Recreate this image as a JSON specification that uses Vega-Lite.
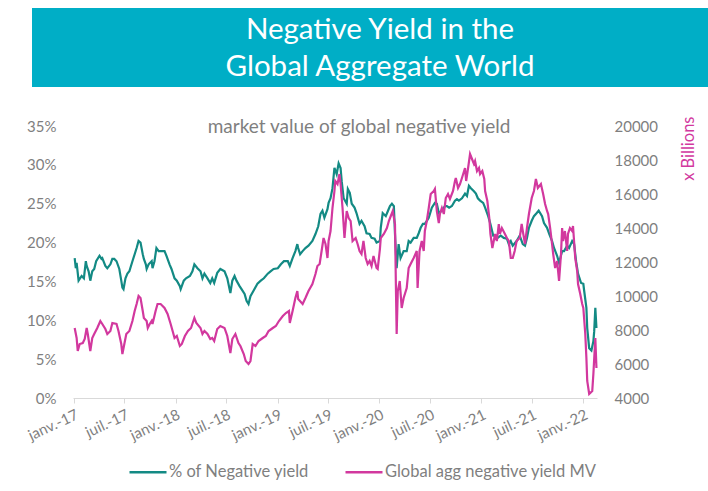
{
  "$schema": "https://vega.github.io/schema/vega-lite/v6.json",
  "padding": {"left": 25, "top": 8, "right": 0, "bottom": 0},
  "background": "white",
  "config": {"font": "Lato", "view": {"stroke": null}},
  "datasets": {
    "pct": [
      {"d":"2017-01-04","v":0.180},{"d":"2017-01-08","v":0.167},{"d":"2017-01-11","v":0.174},{"d":"2017-01-18","v":0.151},{"d":"2017-01-29","v":0.157},{"d":"2017-02-06","v":0.154},{"d":"2017-02-13","v":0.176},{"d":"2017-02-16","v":0.170},{"d":"2017-02-23","v":0.163},{"d":"2017-03-01","v":0.151},{"d":"2017-03-08","v":0.163},{"d":"2017-03-15","v":0.166},{"d":"2017-03-22","v":0.176},{"d":"2017-04-03","v":0.183},{"d":"2017-04-10","v":0.179},{"d":"2017-04-13","v":0.180},{"d":"2017-04-24","v":0.170},{"d":"2017-05-01","v":0.167},{"d":"2017-05-12","v":0.172},{"d":"2017-05-19","v":0.179},{"d":"2017-05-26","v":0.179},{"d":"2017-06-03","v":0.176},{"d":"2017-06-13","v":0.166},{"d":"2017-06-20","v":0.151},{"d":"2017-06-24","v":0.142},{"d":"2017-06-28","v":0.140},{"d":"2017-07-05","v":0.154},{"d":"2017-07-12","v":0.160},{"d":"2017-07-19","v":0.163},{"d":"2017-07-30","v":0.176},{"d":"2017-08-07","v":0.185},{"d":"2017-08-14","v":0.193},{"d":"2017-08-21","v":0.202},{"d":"2017-08-28","v":0.200},{"d":"2017-09-05","v":0.185},{"d":"2017-09-09","v":0.179},{"d":"2017-09-16","v":0.172},{"d":"2017-09-19","v":0.166},{"d":"2017-09-26","v":0.172},{"d":"2017-10-07","v":0.176},{"d":"2017-10-10","v":0.167},{"d":"2017-10-17","v":0.176},{"d":"2017-10-24","v":0.193},{"d":"2017-11-01","v":0.189},{"d":"2017-11-08","v":0.189},{"d":"2017-11-22","v":0.189},{"d":"2017-11-29","v":0.183},{"d":"2017-12-10","v":0.172},{"d":"2017-12-17","v":0.166},{"d":"2017-12-28","v":0.154},
      {"d":"2018-01-05","v":0.151},{"d":"2018-01-16","v":0.144},{"d":"2018-01-19","v":0.140},{"d":"2018-01-30","v":0.151},{"d":"2018-02-07","v":0.154},{"d":"2018-02-21","v":0.157},{"d":"2018-03-02","v":0.163},{"d":"2018-03-09","v":0.172},{"d":"2018-03-20","v":0.167},{"d":"2018-03-31","v":0.163},{"d":"2018-04-07","v":0.154},{"d":"2018-04-14","v":0.160},{"d":"2018-04-25","v":0.154},{"d":"2018-05-05","v":0.148},{"d":"2018-05-12","v":0.154},{"d":"2018-05-19","v":0.148},{"d":"2018-05-30","v":0.161},{"d":"2018-06-10","v":0.166},{"d":"2018-06-25","v":0.163},{"d":"2018-07-05","v":0.154},{"d":"2018-07-16","v":0.135},{"d":"2018-07-23","v":0.151},{"d":"2018-07-31","v":0.157},{"d":"2018-08-07","v":0.151},{"d":"2018-08-18","v":0.144},{"d":"2018-08-25","v":0.140},{"d":"2018-09-05","v":0.134},{"d":"2018-09-12","v":0.125},{"d":"2018-09-19","v":0.121},{"d":"2018-09-26","v":0.131},{"d":"2018-10-07","v":0.138},{"d":"2018-10-21","v":0.147},{"d":"2018-11-02","v":0.151},{"d":"2018-11-13","v":0.154},{"d":"2018-11-27","v":0.160},{"d":"2018-12-07","v":0.163},{"d":"2018-12-18","v":0.166},
      {"d":"2019-01-02","v":0.167},{"d":"2019-01-13","v":0.172},{"d":"2019-01-24","v":0.176},{"d":"2019-02-07","v":0.176},{"d":"2019-02-14","v":0.170},{"d":"2019-02-24","v":0.180},{"d":"2019-03-06","v":0.189},{"d":"2019-03-13","v":0.198},{"d":"2019-03-16","v":0.193},{"d":"2019-03-23","v":0.185},{"d":"2019-04-01","v":0.189},{"d":"2019-04-11","v":0.193},{"d":"2019-04-22","v":0.196},{"d":"2019-05-06","v":0.202},{"d":"2019-05-17","v":0.211},{"d":"2019-05-27","v":0.221},{"d":"2019-06-04","v":0.237},{"d":"2019-06-11","v":0.241},{"d":"2019-06-18","v":0.232},{"d":"2019-06-29","v":0.243},{"d":"2019-07-03","v":0.251},{"d":"2019-07-10","v":0.257},{"d":"2019-07-17","v":0.270},{"d":"2019-07-24","v":0.296},{"d":"2019-08-01","v":0.288},{"d":"2019-08-08","v":0.302},{"d":"2019-08-15","v":0.296},{"d":"2019-08-19","v":0.279},{"d":"2019-08-26","v":0.257},{"d":"2019-09-06","v":0.250},{"d":"2019-09-10","v":0.269},{"d":"2019-09-17","v":0.264},{"d":"2019-09-24","v":0.250},{"d":"2019-10-04","v":0.245},{"d":"2019-10-11","v":0.238},{"d":"2019-10-22","v":0.224},{"d":"2019-10-29","v":0.228},{"d":"2019-11-09","v":0.221},{"d":"2019-11-16","v":0.212},{"d":"2019-11-27","v":0.211},{"d":"2019-12-04","v":0.206},{"d":"2019-12-15","v":0.205},{"d":"2019-12-22","v":0.200},
      {"d":"2020-01-03","v":0.202},{"d":"2020-01-06","v":0.219},{"d":"2020-01-13","v":0.238},{"d":"2020-01-24","v":0.234},{"d":"2020-02-01","v":0.241},{"d":"2020-02-08","v":0.247},{"d":"2020-02-15","v":0.250},{"d":"2020-02-22","v":0.247},{"d":"2020-02-26","v":0.211},{"d":"2020-03-03","v":0.167},{"d":"2020-03-10","v":0.198},{"d":"2020-03-17","v":0.180},{"d":"2020-03-28","v":0.189},{"d":"2020-04-08","v":0.189},{"d":"2020-04-15","v":0.202},{"d":"2020-04-22","v":0.200},{"d":"2020-05-03","v":0.206},{"d":"2020-05-14","v":0.206},{"d":"2020-05-21","v":0.212},{"d":"2020-05-28","v":0.219},{"d":"2020-06-05","v":0.224},{"d":"2020-06-12","v":0.224},{"d":"2020-06-19","v":0.228},{"d":"2020-06-26","v":0.232},{"d":"2020-07-07","v":0.245},{"d":"2020-07-18","v":0.251},{"d":"2020-07-25","v":0.250},{"d":"2020-08-01","v":0.238},{"d":"2020-08-12","v":0.241},{"d":"2020-08-23","v":0.247},{"d":"2020-08-30","v":0.247},{"d":"2020-09-07","v":0.245},{"d":"2020-09-17","v":0.247},{"d":"2020-09-28","v":0.254},{"d":"2020-10-05","v":0.256},{"d":"2020-10-12","v":0.254},{"d":"2020-10-23","v":0.257},{"d":"2020-11-03","v":0.263},{"d":"2020-11-10","v":0.260},{"d":"2020-11-17","v":0.273},{"d":"2020-11-24","v":0.270},{"d":"2020-12-05","v":0.266},{"d":"2020-12-12","v":0.263},{"d":"2020-12-19","v":0.257},{"d":"2020-12-27","v":0.254},
      {"d":"2021-01-07","v":0.251},{"d":"2021-01-14","v":0.245},{"d":"2021-01-25","v":0.234},{"d":"2021-02-02","v":0.224},{"d":"2021-02-12","v":0.209},{"d":"2021-02-19","v":0.209},{"d":"2021-02-28","v":0.206},{"d":"2021-03-11","v":0.209},{"d":"2021-03-22","v":0.206},{"d":"2021-04-02","v":0.205},{"d":"2021-04-09","v":0.198},{"d":"2021-04-16","v":0.202},{"d":"2021-04-23","v":0.196},{"d":"2021-05-07","v":0.202},{"d":"2021-05-18","v":0.209},{"d":"2021-05-29","v":0.198},{"d":"2021-06-06","v":0.196},{"d":"2021-06-13","v":0.206},{"d":"2021-06-20","v":0.219},{"d":"2021-06-30","v":0.228},{"d":"2021-07-08","v":0.234},{"d":"2021-07-18","v":0.238},{"d":"2021-07-25","v":0.241},{"d":"2021-08-06","v":0.234},{"d":"2021-08-13","v":0.225},{"d":"2021-08-24","v":0.219},{"d":"2021-09-01","v":0.211},{"d":"2021-09-11","v":0.202},{"d":"2021-09-18","v":0.193},{"d":"2021-09-29","v":0.183},{"d":"2021-10-06","v":0.174},{"d":"2021-10-17","v":0.189},{"d":"2021-10-24","v":0.189},{"d":"2021-11-04","v":0.196},{"d":"2021-11-11","v":0.193},{"d":"2021-11-22","v":0.202},{"d":"2021-11-29","v":0.198},{"d":"2021-12-06","v":0.176},{"d":"2021-12-13","v":0.160},{"d":"2021-12-24","v":0.148},
      {"d":"2022-01-01","v":0.147},{"d":"2022-01-04","v":0.138},{"d":"2022-01-12","v":0.116},{"d":"2022-01-15","v":0.090},{"d":"2022-01-22","v":0.064},{"d":"2022-01-30","v":0.061},{"d":"2022-02-06","v":0.073},{"d":"2022-02-09","v":0.086},{"d":"2022-02-13","v":0.116},{"d":"2022-02-17","v":0.090}
    ],
    "mv": [
      {"d":"2017-01-04","v":8118},{"d":"2017-01-11","v":7529},{"d":"2017-01-15","v":6765},{"d":"2017-01-22","v":7176},{"d":"2017-02-02","v":7235},{"d":"2017-02-09","v":7470},{"d":"2017-02-16","v":8118},{"d":"2017-02-20","v":7765},{"d":"2017-03-01","v":6765},{"d":"2017-03-08","v":7529},{"d":"2017-03-15","v":7765},{"d":"2017-03-26","v":8118},{"d":"2017-04-06","v":8529},{"d":"2017-04-13","v":8353},{"d":"2017-04-24","v":8059},{"d":"2017-05-01","v":7765},{"d":"2017-05-12","v":7941},{"d":"2017-05-19","v":8412},{"d":"2017-06-03","v":8353},{"d":"2017-06-10","v":7941},{"d":"2017-06-20","v":7176},{"d":"2017-06-24","v":6588},{"d":"2017-07-01","v":7176},{"d":"2017-07-08","v":7765},{"d":"2017-07-19","v":7941},{"d":"2017-07-30","v":8529},{"d":"2017-08-07","v":9117},{"d":"2017-08-14","v":9529},{"d":"2017-08-21","v":10000},{"d":"2017-08-28","v":9882},{"d":"2017-09-05","v":9117},{"d":"2017-09-09","v":8706},{"d":"2017-09-19","v":8529},{"d":"2017-09-23","v":8118},{"d":"2017-09-30","v":8353},{"d":"2017-10-07","v":8529},{"d":"2017-10-10","v":8353},{"d":"2017-10-21","v":9117},{"d":"2017-10-28","v":9529},{"d":"2017-11-08","v":9529},{"d":"2017-11-22","v":9294},{"d":"2017-12-03","v":8941},{"d":"2017-12-14","v":8353},{"d":"2017-12-21","v":7941},{"d":"2017-12-28","v":7529},
      {"d":"2018-01-05","v":7647},{"d":"2018-01-16","v":7059},{"d":"2018-01-23","v":7176},{"d":"2018-02-03","v":7647},{"d":"2018-02-14","v":7941},{"d":"2018-02-25","v":8118},{"d":"2018-03-09","v":8706},{"d":"2018-03-16","v":8412},{"d":"2018-03-31","v":8118},{"d":"2018-04-07","v":7765},{"d":"2018-04-14","v":7941},{"d":"2018-04-25","v":7765},{"d":"2018-05-05","v":7470},{"d":"2018-05-12","v":7529},{"d":"2018-05-19","v":7353},{"d":"2018-05-30","v":8059},{"d":"2018-06-10","v":8235},{"d":"2018-06-25","v":8118},{"d":"2018-07-05","v":7647},{"d":"2018-07-16","v":6647},{"d":"2018-07-23","v":7470},{"d":"2018-08-03","v":7765},{"d":"2018-08-14","v":7235},{"d":"2018-08-21","v":7059},{"d":"2018-09-02","v":6588},{"d":"2018-09-09","v":6176},{"d":"2018-09-19","v":6000},{"d":"2018-09-26","v":6176},{"d":"2018-10-04","v":7176},{"d":"2018-10-14","v":7059},{"d":"2018-10-25","v":7353},{"d":"2018-11-09","v":7529},{"d":"2018-11-20","v":7647},{"d":"2018-11-30","v":7941},{"d":"2018-12-15","v":8118},{"d":"2018-12-26","v":8235},
      {"d":"2019-01-06","v":8529},{"d":"2019-01-20","v":8823},{"d":"2019-01-31","v":9000},{"d":"2019-02-11","v":9117},{"d":"2019-02-14","v":8412},{"d":"2019-02-24","v":9117},{"d":"2019-03-06","v":9882},{"d":"2019-03-13","v":10294},{"d":"2019-03-16","v":9823},{"d":"2019-04-01","v":9529},{"d":"2019-04-11","v":9882},{"d":"2019-04-22","v":10294},{"d":"2019-05-06","v":10706},{"d":"2019-05-17","v":11294},{"d":"2019-05-24","v":11764},{"d":"2019-06-01","v":11882},{"d":"2019-06-08","v":12647},{"d":"2019-06-15","v":13411},{"d":"2019-06-22","v":13058},{"d":"2019-06-29","v":12235},{"d":"2019-07-03","v":13235},{"d":"2019-07-10","v":13823},{"d":"2019-07-17","v":15176},{"d":"2019-07-24","v":16176},{"d":"2019-07-27","v":16764},{"d":"2019-08-04","v":16587},{"d":"2019-08-11","v":17176},{"d":"2019-08-15","v":16587},{"d":"2019-08-22","v":15176},{"d":"2019-08-29","v":13411},{"d":"2019-09-06","v":15000},{"d":"2019-09-13","v":14588},{"d":"2019-09-20","v":14411},{"d":"2019-09-27","v":13235},{"d":"2019-10-08","v":13411},{"d":"2019-10-15","v":13058},{"d":"2019-10-22","v":12647},{"d":"2019-10-29","v":12470},{"d":"2019-11-05","v":13235},{"d":"2019-11-13","v":12235},{"d":"2019-11-20","v":11882},{"d":"2019-11-27","v":12058},{"d":"2019-12-04","v":11764},{"d":"2019-12-11","v":12353},{"d":"2019-12-22","v":11647},{"d":"2019-12-26","v":11588},
      {"d":"2020-01-03","v":12764},{"d":"2020-01-06","v":13411},{"d":"2020-01-17","v":13647},{"d":"2020-01-28","v":14000},{"d":"2020-02-04","v":14411},{"d":"2020-02-11","v":14705},{"d":"2020-02-18","v":15000},{"d":"2020-02-26","v":14235},{"d":"2020-02-29","v":10882},{"d":"2020-03-03","v":7765},{"d":"2020-03-07","v":10294},{"d":"2020-03-14","v":10882},{"d":"2020-03-21","v":9294},{"d":"2020-03-28","v":9882},{"d":"2020-04-08","v":10470},{"d":"2020-04-15","v":11647},{"d":"2020-04-22","v":11882},{"d":"2020-05-03","v":12235},{"d":"2020-05-14","v":12647},{"d":"2020-05-17","v":10470},{"d":"2020-05-24","v":12647},{"d":"2020-06-01","v":13235},{"d":"2020-06-08","v":12647},{"d":"2020-06-12","v":13823},{"d":"2020-06-19","v":14411},{"d":"2020-06-26","v":15176},{"d":"2020-07-03","v":16000},{"d":"2020-07-14","v":16176},{"d":"2020-07-18","v":16294},{"d":"2020-07-25","v":15000},{"d":"2020-08-01","v":14294},{"d":"2020-08-05","v":14823},{"d":"2020-08-12","v":15176},{"d":"2020-08-19","v":14823},{"d":"2020-08-26","v":15764},{"d":"2020-09-03","v":16000},{"d":"2020-09-10","v":15705},{"d":"2020-09-21","v":16176},{"d":"2020-09-28","v":16764},{"d":"2020-10-01","v":16940},{"d":"2020-10-09","v":16352},{"d":"2020-10-16","v":16587},{"d":"2020-10-23","v":16940},{"d":"2020-11-03","v":17529},{"d":"2020-11-07","v":16764},{"d":"2020-11-14","v":17529},{"d":"2020-11-21","v":18352},{"d":"2020-11-28","v":18058},{"d":"2020-12-05","v":17764},{"d":"2020-12-09","v":17940},{"d":"2020-12-16","v":17352},{"d":"2020-12-23","v":17529},{"d":"2020-12-27","v":17176},
      {"d":"2021-01-04","v":17352},{"d":"2021-01-11","v":16882},{"d":"2021-01-14","v":16176},{"d":"2021-01-22","v":15588},{"d":"2021-01-29","v":14588},{"d":"2021-02-02","v":13647},{"d":"2021-02-09","v":12823},{"d":"2021-02-16","v":13411},{"d":"2021-02-19","v":13647},{"d":"2021-02-25","v":13235},{"d":"2021-03-04","v":14235},{"d":"2021-03-08","v":13647},{"d":"2021-03-15","v":14000},{"d":"2021-03-26","v":13647},{"d":"2021-04-02","v":13411},{"d":"2021-04-09","v":13235},{"d":"2021-04-16","v":12235},{"d":"2021-04-23","v":12235},{"d":"2021-04-30","v":12647},{"d":"2021-05-07","v":13235},{"d":"2021-05-18","v":13411},{"d":"2021-05-25","v":14235},{"d":"2021-05-29","v":13823},{"d":"2021-06-06","v":13058},{"d":"2021-06-13","v":14000},{"d":"2021-06-20","v":14823},{"d":"2021-06-30","v":15764},{"d":"2021-07-08","v":16176},{"d":"2021-07-15","v":16882},{"d":"2021-07-22","v":16352},{"d":"2021-08-02","v":16587},{"d":"2021-08-10","v":16000},{"d":"2021-08-17","v":15411},{"d":"2021-08-24","v":15000},{"d":"2021-08-28","v":14823},{"d":"2021-09-04","v":14000},{"d":"2021-09-11","v":13058},{"d":"2021-09-15","v":12470},{"d":"2021-09-22","v":11647},{"d":"2021-09-29","v":12058},{"d":"2021-10-06","v":10882},{"d":"2021-10-13","v":12470},{"d":"2021-10-17","v":14000},{"d":"2021-10-20","v":13235},{"d":"2021-10-27","v":13823},{"d":"2021-11-04","v":12647},{"d":"2021-11-07","v":13647},{"d":"2021-11-14","v":14000},{"d":"2021-11-22","v":13823},{"d":"2021-11-25","v":14117},{"d":"2021-12-03","v":12235},{"d":"2021-12-10","v":11470},{"d":"2021-12-13","v":10706},{"d":"2021-12-21","v":10117},{"d":"2021-12-28","v":9529},
      {"d":"2022-01-01","v":9294},{"d":"2022-01-08","v":7765},{"d":"2022-01-12","v":6353},{"d":"2022-01-15","v":5000},{"d":"2022-01-22","v":4235},{"d":"2022-02-02","v":4412},{"d":"2022-02-06","v":5412},{"d":"2022-02-13","v":7529},{"d":"2022-02-17","v":5765}
    ]
  },
  "align": "none",
  "spacing": 28,
  "vconcat": [
    {
      "width": 676,
      "height": 79,
      "view": {"fill": "#00AEC6", "stroke": null},
      "data": {"values": [{"t": "Negative Yield in the\nGlobal Aggregate World"}]},
      "mark": {"type": "text", "lineBreak": "\n", "fontSize": 29.5, "color": "white", "lineHeight": 37, "baseline": "middle", "dx": 10, "dy": -18, "font": "Lato"},
      "encoding": {"text": {"field": "t"}}
    },
    {
      "spacing": -8,
      "hconcat": [
        {
          "width": 1,
          "height": 272,
          "data": {"values": [{"t": ""}]},
          "mark": {"type": "text"},
          "encoding": {"text": {"field": "t"}}
        },
        {
          "width": 524,
          "height": 272,
          "view": {"stroke": null},
          "title": {"text": "market value of global negative yield", "frame": "group", "anchor": "middle", "offset": -6, "dx": 24, "dy": 30, "baseline": "alphabetic", "fontSize": 19, "fontWeight": "normal", "color": "#7F7F7F", "font": "Lato"},
          "layer": [
            {
              "data": {"name": "pct"},
              "mark": {"type": "line", "strokeWidth": 2.2},
              "encoding": {
                "x": {"field": "d", "type": "temporal",
                  "scale": {"type": "utc", "domain": [{"year": 2016, "month": 12, "date": 29, "utc": true}, {"year": 2022, "month": 2, "date": 19, "utc": true}]},
                  "axis": {"title": null, "grid": false, "values": [
                    {"year": 2017, "month": 1, "date": 1, "utc": true}, {"year": 2017, "month": 7, "date": 1, "utc": true},
                    {"year": 2018, "month": 1, "date": 1, "utc": true}, {"year": 2018, "month": 7, "date": 1, "utc": true},
                    {"year": 2019, "month": 1, "date": 1, "utc": true}, {"year": 2019, "month": 7, "date": 1, "utc": true},
                    {"year": 2020, "month": 1, "date": 1, "utc": true}, {"year": 2020, "month": 7, "date": 1, "utc": true},
                    {"year": 2021, "month": 1, "date": 1, "utc": true}, {"year": 2021, "month": 7, "date": 1, "utc": true},
                    {"year": 2022, "month": 1, "date": 1, "utc": true}],
                    "labelExpr": "(utcmonth(datum.value) == 0 ? 'janv.-' : 'juil.-') + utcFormat(datum.value, '%y')",
                    "labelAngle": -25, "labelAlign": "right", "labelBaseline": "top", "labelPadding": 4,
                    "labelFontSize": 15, "labelColor": "#7F7F7F", "labelOverlap": false,
                    "domainColor": "#D9D9D9", "tickColor": "#D9D9D9", "tickSize": 5}
                },
                "y": {"field": "v", "type": "quantitative",
                  "scale": {"domain": [0, 0.35]},
                  "axis": {"orient": "left", "title": null, "grid": false, "domain": false, "ticks": false,
                    "values": [0, 0.05, 0.1, 0.15, 0.2, 0.25, 0.3, 0.35], "format": ".0%",
                    "labelFontSize": 15, "labelColor": "#7F7F7F", "labelPadding": 17}
                },
                "color": {"datum": "% of Negative yield", "type": "nominal",
                  "scale": {"domain": ["% of Negative yield", "Global agg negative yield MV"], "range": ["#138A84", "#D2389E"]},
                  "legend": {"title": null, "orient": "none", "legendX": 96, "legendY": 444, "direction": "horizontal",
                    "symbolType": "stroke", "symbolSize": 1369, "symbolStrokeWidth": 2.5, "labelFontSize": 16.5,
                    "labelColor": "#7F7F7F", "labelLimit": 300, "columnPadding": 30, "labelOffset": 1}
                }
              }
            },
            {
              "data": {"name": "mv"},
              "mark": {"type": "line", "strokeWidth": 2.2},
              "encoding": {
                "x": {"field": "d", "type": "temporal"},
                "y": {"field": "v", "type": "quantitative",
                  "scale": {"domain": [4000, 20000]},
                  "axis": {"orient": "right", "grid": false, "domain": false, "ticks": false,
                    "values": [4000, 6000, 8000, 10000, 12000, 14000, 16000, 18000, 20000], "format": "d",
                    "labelFontSize": 15, "labelColor": "#7F7F7F", "labelPadding": 17,
                    "title": "x Billions", "titleColor": "#D2389E", "titleFontSize": 16.5, "titleFontWeight": "normal",
                    "titleAngle": 270, "titleAlign": "right", "titleBaseline": "top", "titleAnchor": "end", "titleY": -10, "titlePadding": 23}
                },
                "color": {"datum": "Global agg negative yield MV", "type": "nominal"}
              }
            }
          ],
          "resolve": {"scale": {"y": "independent"}}
        }
      ]
    }
  ]
}
